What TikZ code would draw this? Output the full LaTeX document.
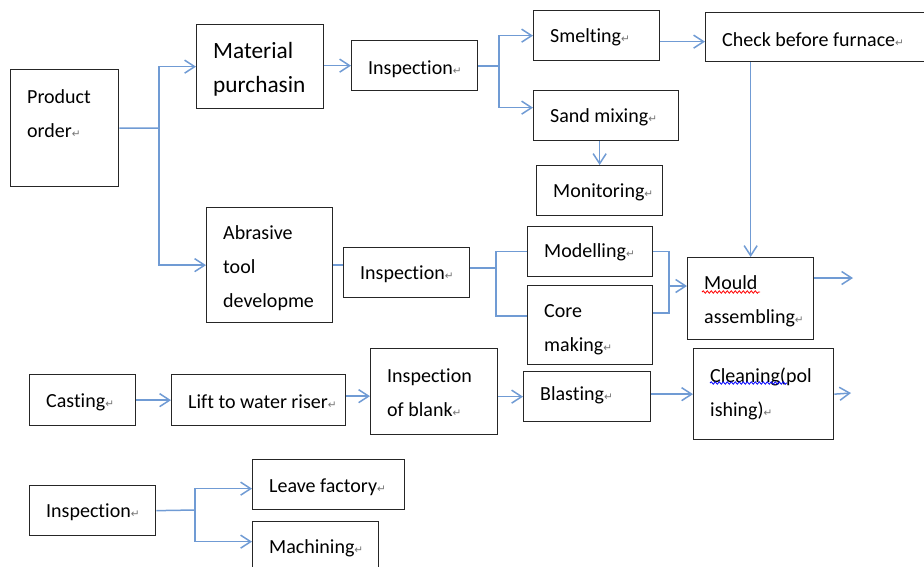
\documentclass[tikz,border=0pt]{standalone}
\usepackage{fontspec}
\setmainfont{Carlito}[Ligatures=NoCommon]
\newfontfamily\arrowfont{DejaVu Sans}
\usetikzlibrary{arrows.meta,decorations.pathmorphing}
\definecolor{flowblue}{RGB}{112,155,212}
\newcommand{\retmark}{{\arrowfont\fontsize{10.5}{10.5}\selectfont\color{black!55}↵}}

\begin{document}
\begin{tikzpicture}[x=1pt,y=-1pt,
  box/.style={draw=black!85,line width=1.3pt,anchor=north west,inner sep=0pt},
  txt/.style={anchor=west,xshift=17pt,inner sep=0pt,align=left,font=\fontsize{20}{34}\selectfont},
  line/.style={draw=flowblue,line width=1.5pt},
  arr/.style={line,-{Straight Barb[length=10pt,width=13pt]}},
  wavy/.style={line width=0.8pt,decorate,decoration={snake,amplitude=1.2pt,segment length=4pt}}]
\useasboundingbox (0,0) rectangle (924,566);
\clip (0,0) rectangle (924,566);

\node[box,minimum width=108pt,minimum height=117pt,label={[txt,yshift=14.5pt]left:Product\\order\retmark}] (order) at (10,69) {};
\node[box,minimum width=127pt,minimum height=84pt,label={[txt,font=\fontsize{23.3}{34}\selectfont,yshift=-3pt]left:Material\\purchasin}] (material) at (196,24) {};
\node[box,minimum width=126pt,minimum height=50pt,label={[txt,yshift=-4pt]left:Inspection\retmark}] (insp1) at (351,40) {};
\node[box,minimum width=126pt,minimum height=50pt,label={[txt,yshift=-2pt]left:Smelting\retmark}] (smelt) at (533,10) {};
\node[box,minimum width=221pt,minimum height=49pt,label={[txt,yshift=-2pt]left:Check before furnace\retmark}] (check) at (705,12) {};
\node[box,minimum width=145pt,minimum height=50pt,label={[txt,yshift=-2pt]left:Sand mixing\retmark}] (sand) at (533,90) {};
\node[box,minimum width=126pt,minimum height=50pt,label={[txt,yshift=-2pt]left:Monitoring\retmark}] (monitor) at (536,165) {};
\node[box,minimum width=126pt,minimum height=115pt,label={[txt,yshift=-3.5pt]left:Abrasive\\tool\\developme}] (abrasive) at (206,207) {};
\node[box,minimum width=126pt,minimum height=50pt,label={[txt,yshift=-2pt]left:Inspection\retmark}] (insp2) at (343,247) {};
\node[box,minimum width=125pt,minimum height=50pt,label={[txt,yshift=-1pt]left:Modelling\retmark}] (model) at (527,226) {};
\node[box,minimum width=125pt,minimum height=79pt,label={[txt,yshift=-4.5pt]left:Core\\making\retmark}] (core) at (527,285) {};
\node[box,minimum width=126pt,minimum height=82pt,label={[txt,yshift=-2.5pt]left:Mould\\assembling\retmark}] (mould) at (687,257) {};
\node[box,minimum width=140pt,minimum height=91pt,label={[txt]left:Cleaning(pol\\ishing)\retmark}] (clean) at (693,348) {};
\node[box,minimum width=106pt,minimum height=51pt,label={[txt,yshift=-2pt]left:Casting\retmark}] (casting) at (29,374) {};
\node[box,minimum width=174pt,minimum height=51pt,label={[txt,yshift=-2pt]left:Lift to water riser\retmark}] (lift) at (171,374) {};
\node[box,minimum width=127pt,minimum height=86pt,label={[txt,yshift=-1.5pt]left:Inspection\\of blank\retmark}] (blank) at (370,348) {};
\node[box,minimum width=127pt,minimum height=50pt,label={[txt,yshift=1pt]left:Blasting\retmark}] (blast) at (523,371) {};
\node[box,minimum width=126pt,minimum height=50pt,label={[txt,yshift=-2pt]left:Inspection\retmark}] (insp3) at (29,485) {};
\node[box,minimum width=152pt,minimum height=50pt,label={[txt,yshift=-3pt]left:Leave factory\retmark}] (leave) at (252,459) {};
\node[box,minimum width=126pt,minimum height=50pt,label={[txt,yshift=-2pt]left:Machining\retmark}] (mach) at (252,521) {};

\coordinate (j1) at (159,128);
\coordinate (j2) at (499,66);
\coordinate (j3) at (496,268);
\coordinate (j4) at (669,286);
\coordinate (j5) at (195,510);
\coordinate (out1) at (853,278);
\coordinate (out2) at (851,393);

\draw[line] (order.east) -- (j1);
\draw[arr] (j1) |- (material);
\draw[arr] (j1) |- (abrasive);
\draw[arr] (material.east |- insp1) -- (insp1.west);
\draw[line] (insp1.east |- j2) -- (j2);
\draw[arr] (j2) |- (smelt);
\draw[arr] (j2) |- ([yshift=8pt]sand.west);
\draw[arr] ([yshift=-6pt]smelt.east) -- ([yshift=-6pt]smelt.east -| check.west);
\draw[arr] (sand.south -| monitor.north) -- (monitor.north);
\draw[arr] (check.south -| mould.north) -- (mould.north);
\draw[line] (abrasive.east) -- (abrasive.east -| insp2.west);
\draw[line] (insp2.east |- j3) -- (j3);
\draw[line] (model.west) -| (j3) |- ([yshift=9pt]core.west);
\draw[line] (model.east) -| (j4) |- ([yshift=12pt]core.east);
\draw[arr] (j4) -- (j4 -| mould.west);
\draw[arr] (mould.east |- out1) -- (out1);
\draw[arr] (casting) -- (lift);
\draw[arr] ([yshift=4pt]lift.east) -- ([yshift=4pt]lift.east -| blank.west);
\draw[arr] (blank.east |- blast) -- (blast.west);
\draw[arr] (blast.east |- clean) -- (clean.west);
\draw[arr] (clean.east) -- (out2);
\draw[line] (insp3.east) -- (j5);
\draw[arr] (j5) |- ([yshift=-4pt]leave.west);
\draw[arr] (j5) |- ([yshift=5pt]mach.west);

\draw[wavy,red] (702,292) -- (760,292);
\draw[wavy,blue] (710,383) -- (787,383);
\end{tikzpicture}
\end{document}
